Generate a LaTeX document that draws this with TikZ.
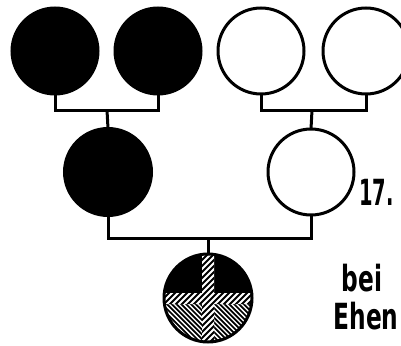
\documentclass[tikz,border=0pt]{standalone}
\usepackage{fontspec}
\setmainfont{DejaVu Sans Condensed}
\begin{document}
\begin{tikzpicture}[x=1pt,y=-1pt,
  person/.style={circle,draw=black,line width=3pt,inner sep=0pt,outer sep=0pt,minimum size=#1},
  affected/.style={person=#1,fill=black},
  healthy/.style={person=#1,fill=white},
  link/.style={draw=black,line width=3pt,line cap=butt,line join=miter},
  stripe/.style={draw=black,line width=2pt},
  lbl/.style={font=\bfseries\fontsize{36}{36}\selectfont,inner sep=0pt,text=black}
]
\useasboundingbox (0,0) rectangle (401,345);
\fill[white] (0,0) rectangle (401,345);

% grandparents
\node[affected=86] (a1) at (55,51) {};
\node[affected=86] (a2) at (158,51) {};
\node[healthy=86] (a3) at (261,51) {};
\node[healthy=86] (a4) at (366,51) {};

% parents
\node[affected=87] (b1) at (108,172) {};
\node[healthy=86] (b2) at (311,172) {};

% child
\node[person=88,draw=none] (c) at (208,298) {};

% junctions
\coordinate (j1) at (107,110);
\coordinate (j2) at (312,110);
\coordinate (j3) at (208,238);

\draw[link] (a1.south) |- (j1) -| (a2.south);
\draw[link] (j1) -- (b1.north);
\draw[link] (a3.south) |- (j2) -| (a4.south);
\draw[link] (j2) -- (b2.north);
\draw[link] (b1.south) |- (j3) -| (b2.south);
\draw[link] (j3) -- (c.north);

% child filling
\begin{scope}
  \clip (c.center) circle (44);
  \fill[black] (150,240) rectangle (270,293);
  % lower quadrants: "\" stripes
  \begin{scope}
    \clip (150,304) rectangle (202,350) (214,304) rectangle (270,350);
    \foreach \k in {0,4.8,...,160} {
      \draw[stripe,line width=1.7pt] (60+\k,250) -- ++(110,110);
    }
  \end{scope}
  % cross: "/" stripes
  \begin{scope}
    \clip (202,240) rectangle (214,350) (150,293) rectangle (270,304);
    \fill[white] (150,240) rectangle (270,350);
    \foreach \k in {0,6,...,250} {
      \draw[stripe,line width=2.1pt] (30+\k,360) -- ++(130,-130);
    }
  \end{scope}
\end{scope}
\draw[black,line width=3pt] (c.center) circle (44);

% labels
\node[lbl,anchor=west,xscale=0.6] (n17) at (359,192) {17.};
\node[lbl,xscale=0.72] (bei) at (362,278) {bei};
\node[lbl,xscale=0.72] (ehen) at (366,316) {Ehen};
\end{tikzpicture}
\end{document}
